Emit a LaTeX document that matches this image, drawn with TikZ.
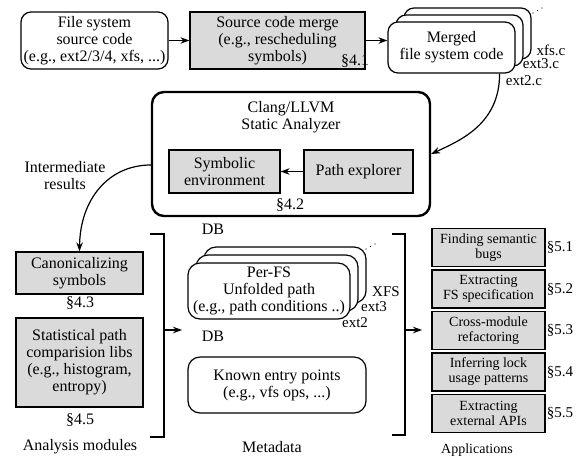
\documentclass[tikz,border=0pt]{standalone}
\usepackage{fontspec}
\setmainfont{LiberationSerif}[Extension=.ttf, UprightFont=*-Regular, BoldFont=*-Bold, ItalicFont=*-Italic, BoldItalicFont=*-BoldItalic]
\usetikzlibrary{arrows.meta,calc}
\definecolor{boxgray}{RGB}{218,218,218}
\begin{document}
\begin{tikzpicture}[x=1pt,y=-1pt, font=\rmfamily\fontsize{16}{17}\selectfont,
  line width=1.2pt,
  arr/.style={-{Stealth[length=9pt,width=6.5pt]}, line width=1.2pt},
  rbox/.style={draw, rounded corners=10pt, fill=white, align=center, inner sep=1pt},
  gbox/.style={draw, fill=boxgray, align=center, inner sep=1pt},
  lab/.style={inner sep=0pt, align=center},
  small/.style={font=\rmfamily\fontsize{14}{15}\selectfont},
  mid/.style={font=\rmfamily\fontsize{15}{16}\selectfont}]
\useasboundingbox (0,0) rectangle (585,459);

% top row
\node[rbox, minimum width=147pt, minimum height=57pt] (fs) at (94.5,40.5) {File system\\source code\\(e.g., ext2/3/4, xfs, ...)};
\node[gbox, minimum width=175pt, minimum height=57pt] (merge) at (277.5,40.5) {Source code merge\\(e.g., rescheduling\\symbols)};
\node[lab] (s41) at (355,61) {\S4.1};
\draw[arr] (fs) -- (merge);

\node[rbox, minimum width=127pt, minimum height=51pt] (m3) at (467.5,33.5) {};
\node[rbox, minimum width=127pt, minimum height=51pt] (m2) at (459.5,40.5) {};
\node[rbox, minimum width=127pt, minimum height=51pt] (merged) at (451.5,47.5) {Merged\\file system code};
\fill (533,13) circle (0.6pt) (537.5,10.5) circle (0.6pt) (542,8) circle (0.6pt);
\node[lab, mid] (xfs) at (551,50) {xfs.c};
\node[lab, mid] (ext3c) at (541,64) {ext3.c};
\node[lab, mid] (ext2c) at (524,81) {ext2.c};
\draw[arr] (merge.east) -- (merge.east -| merged.west);

% clang
\node[draw, line width=2.4pt, rounded corners=12pt, minimum width=278pt, minimum height=124pt] (clang) at (291,154) {};
\node[lab] (clangt) at (291,117) {Clang/LLVM\\Static Analyzer};
\node[gbox, minimum width=111pt, minimum height=43pt] (senv) at (224.5,171.5) {Symbolic\\environment};
\node[gbox, minimum width=109pt, minimum height=43pt] (pexp) at (358.5,171.5) {Path explorer};
\draw[arr] (pexp) -- (senv);
\node[lab] (s42) at (290,205) {\S4.2};
\draw[arr] ([xshift=-16pt]merged.south east) .. controls +(0,50) and +(30,-14) .. (clang.east);

% intermediate
\node[lab] (ires) at (65,176) {Intermediate\\results};

% left column
\node[gbox, minimum width=127pt, minimum height=42pt] (canon) at (79.5,273) {Canonicalizing\\symbols};
\node[lab] (s43) at (80,303) {\S4.3};
\node[gbox, minimum width=127pt, minimum height=89pt] (stat) at (79.5,362.5) {Statistical path\\comparision libs\\(e.g., histogram,\\entropy)};
\node[lab] (s45) at (80,420) {\S4.5};
\node[lab] (am) at (80,447) {Analysis modules};
\draw[arr] ([yshift=-11pt]clang.west) .. controls (108,165) and (80,200) .. (canon.north);

\coordinate (lbt) at (150,234);
\coordinate (lbb) at (150,437);
\coordinate (la) at (164,330);
\coordinate (lae) at (182,330);
\draw (lbt) -- (164,234) -- (164,437) -- (lbb);
\draw[arr] (la) -- (lae);

% middle
\node[lab] (db1) at (213,229) {DB};
\node[rbox, rounded corners=12pt, minimum width=162pt, minimum height=56pt] (p3) at (285,275) {};
\node[rbox, rounded corners=12pt, minimum width=162pt, minimum height=56pt] (p2) at (277,283) {};
\node[rbox, rounded corners=12pt, minimum width=162pt, minimum height=56pt] (perfs) at (269,291) {Per-FS\\Unfolded path\\(e.g., path conditions ..)};
\fill (366,249) circle (0.6pt) (370.5,246.5) circle (0.6pt) (375,244) circle (0.6pt);
\node[lab, mid] (xfsl) at (386,292) {XFS};
\node[lab, mid] (ext3l) at (374,307) {ext3};
\node[lab, mid] (ext2l) at (355,323) {ext2};
\node[lab] (db2) at (213,336) {DB};
\node[rbox, rounded corners=12pt, minimum width=178pt, minimum height=56pt] (known) at (277,385) {Known entry points\\(e.g., vfs ops, ...)};
\node[lab] (meta) at (272,447) {Metadata};

\coordinate (rbt) at (392,234);
\coordinate (rbb) at (392,435);
\coordinate (ra) at (405,330);
\coordinate (rae) at (422,330);
\draw (rbt) -- (405,234) -- (405,435) -- (rbb);
\draw[arr] (ra) -- (rae);

% right column
\node[gbox, small, minimum width=113pt, minimum height=38pt] (a1) at (488.5,247.5) {Finding semantic\\bugs};
\node[gbox, small, minimum width=113pt, minimum height=38pt] (a2) at (488.5,289) {Extracting\\FS specification};
\node[gbox, small, minimum width=113pt, minimum height=38pt] (a3) at (488.5,330.5) {Cross-module\\refactoring};
\node[gbox, small, minimum width=113pt, minimum height=38pt] (a4) at (488.5,372) {Inferring lock\\usage patterns};
\node[gbox, small, minimum width=113pt, minimum height=38pt] (a5) at (488.5,413.5) {Extracting\\external APIs};
\node[lab, mid] (s51) at (560,247.5) {\S5.1};
\node[lab, mid] (s52) at (560,289) {\S5.2};
\node[lab, mid] (s53) at (560,330.5) {\S5.3};
\node[lab, mid] (s54) at (560,372) {\S5.4};
\node[lab, mid] (s55) at (560,413.5) {\S5.5};
\node[lab, small] (apps) at (477,450) {Applications};
\end{tikzpicture}
\end{document}
